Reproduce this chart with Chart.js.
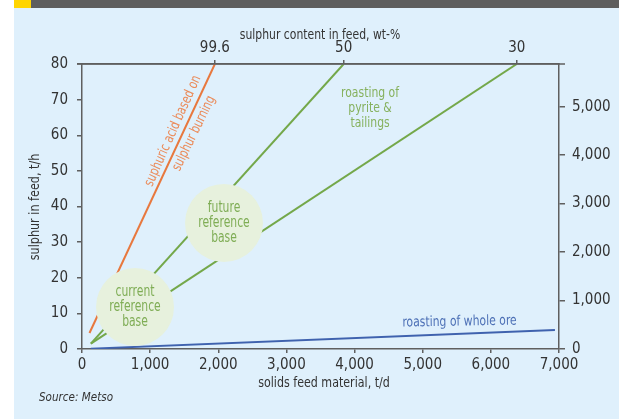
<!DOCTYPE html>
<html>
<head>
<meta charset="utf-8">
<script src="https://cdn.jsdelivr.net/npm/chart.js@4.4.1/dist/chart.umd.min.js"></script>
<style>
  html, body { margin: 0; padding: 0; background: #fff; }
  #wrap { width: 619px; height: 419px; position: relative; }
</style>
</head>
<body>
<div id="wrap"><canvas id="chart" width="619" height="419"></canvas></div>
<script>
// axis ticks
const feedTicks = [0, 1000, 2000, 3000, 4000, 5000, 6000, 7000];
const sulphurTicks = [0, 10, 20, 30, 40, 50, 60, 70, 80];
const acidTicks = [0, 1000, 2000, 3000, 4000, 5000];
const contentLabels = ["99.6", "50", "30"];
const contentFeed = [1950, 3840, 6380];

// series (solids feed t/d, sulphur t/h)
const acidBurning = [{ x: 110, y: 4.5 }, { x: 1950, y: 80 }];
const pyriteRich = [{ x: 130, y: 1.5 }, { x: 3840, y: 80 }];
const pyriteLean = [{ x: 130, y: 1.5 }, { x: 6380, y: 80 }];
const wholeOre = [{ x: 130, y: 0.1 }, { x: 6940, y: 5.3 }];
const baseNames = [["current", "reference", "base"], ["future", "reference", "base"]];
const basePoints = [{ x: 778, y: 11.8 }, { x: 2084, y: 35.4 }];

const FONT = "'Liberation Sans Narrow', 'DejaVu Sans Condensed', sans-serif";
const axisCol = "#5f5f5f";
const textCol = "#333";
const orange = "#e8783e";
const green = "#74a84a";
const blue = "#3f62ae";

const tickFont = { family: FONT, size: 15 };

// narrow text: condensed horizontally to look like the original typeface
function label(c, t, x, y, rot, sx) {
  c.save();
  c.translate(x, y);
  if (rot) c.rotate(rot * Math.PI / 180);
  c.scale(sx || 0.86, 1);
  c.fillText(t, 0, 0);
  c.restore();
}

const decor = {
  id: "decor",
  beforeDraw(chart) {
    const c = chart.ctx;
    c.save();
    c.fillStyle = "#fff";
    c.fillRect(0, 0, 619, 419);
    c.fillStyle = "#dff0fc";
    c.fillRect(14, 8, 605, 411);
    c.fillStyle = "#5e5e5e";
    c.fillRect(31, 0, 588, 8);
    c.fillStyle = "#ffd500";
    c.fillRect(14, 0, 17, 8);
    c.restore();
  },
  afterDatasetsDraw(chart) {
    const c = chart.ctx;
    const xs = chart.scales.x, ys = chart.scales.y;
    const px = v => xs.getPixelForValue(v), py = v => ys.getPixelForValue(v);
    const a = chart.chartArea;
    c.save();

    // top border runs a little past both side axes
    c.strokeStyle = axisCol;
    c.lineWidth = 1.5;
    c.beginPath();
    c.moveTo(a.left - 5, a.top);
    c.lineTo(a.right + 6, a.top);
    c.stroke();

    c.textAlign = "center";
    c.textBaseline = "middle";

    // circle labels
    c.fillStyle = "#7fad55";
    c.font = "15px " + FONT;
    basePoints.forEach((p, i) => {
      baseNames[i].forEach((t, k) => label(c, t, px(p.x), py(p.y) + (k - 1) * 15, 0, 0.8));
    });

    // pyrite label
    c.fillStyle = "#86b15e";
    c.font = "14px " + FONT;
    ["roasting of", "pyrite &", "tailings"].forEach((t, k) => label(c, t, px(4227), py(67.6) + (k - 1) * 15));

    // whole ore label
    c.fillStyle = "#4d70b6";
    label(c, "roasting of whole ore", px(5540), py(7.6), -1);

    // sulphur burning label
    c.fillStyle = "#eb8a58";
    c.font = "14px " + FONT;
    label(c, "suphuric acid based on", px(1336), py(61.2), -66, 0.82);
    label(c, "sulphur burning", px(1644), py(60.5), -64, 0.82);

    // axis titles
    c.fillStyle = textCol;
    c.font = "14px " + FONT;
    label(c, "sulphur content in feed, wt-%", 320, 35);
    label(c, "solids feed material, t/d", 324, 383, 0, 0.88);
    label(c, "sulphur in feed, t/h", 35, 207, -90, 0.89);
    c.textAlign = "left";
    c.font = "italic 13px " + FONT;
    label(c, "Source: Metso", 39, 398, 0, 0.89);
    c.restore();
  }
};

const gridOpts = len => ({ drawOnChartArea: false, tickLength: len, color: axisCol, lineWidth: 1.5 });
const border = { color: axisCol, width: 1.5 };

new Chart(document.getElementById("chart"), {
  type: "scatter",
  data: {
    datasets: [
      { data: basePoints, pointRadius: 39, pointHoverRadius: 39, backgroundColor: "#e7f1dd", borderWidth: 0, showLine: false, order: 0 },
      { data: acidBurning, showLine: true, borderColor: orange, borderWidth: 2, pointRadius: 0, order: 1 },
      { data: pyriteRich, showLine: true, borderColor: green, borderWidth: 2, pointRadius: 0, order: 1 },
      { data: pyriteLean, showLine: true, borderColor: green, borderWidth: 2, pointRadius: 0, order: 1 },
      { data: wholeOre, showLine: true, borderColor: blue, borderWidth: 2, pointRadius: 0, order: 1 }
    ]
  },
  options: {
    responsive: false,
    animation: false,
    events: [],
    layout: { padding: 0 },
    plugins: { legend: { display: false }, tooltip: { enabled: false } },
    scales: {
      x: {
        type: "linear", position: "bottom", min: 0, max: 7000,
        afterBuildTicks: s => { s.ticks = feedTicks.map(v => ({ value: v })); },
        afterFit: s => { s.height = 70; },
        grid: gridOpts(4), border,
        ticks: { font: tickFont, color: textCol, padding: 3, maxRotation: 0, autoSkip: false }
      },
      x2: {
        type: "linear", position: "top", min: 0, max: 7000,
        afterBuildTicks: s => { s.ticks = contentFeed.map(v => ({ value: v })); },
        afterFit: s => { s.height = 64; },
        grid: gridOpts(4), border,
        ticks: { font: tickFont, color: textCol, padding: 3, maxRotation: 0, autoSkip: false,
                 callback: (v, i) => contentLabels[i] }
      },
      y: {
        type: "linear", position: "left", min: 0, max: 80,
        afterBuildTicks: s => { s.ticks = sulphurTicks.map(v => ({ value: v })); },
        afterFit: s => { s.width = 82; },
        grid: gridOpts(5), border,
        ticks: { font: tickFont, color: textCol, padding: 9, autoSkip: false }
      },
      y2: {
        type: "linear", position: "right", min: 0, max: 5880,
        afterBuildTicks: s => { s.ticks = acidTicks.map(v => ({ value: v })); },
        afterFit: s => { s.width = 60; },
        grid: gridOpts(6), border,
        ticks: { font: tickFont, color: textCol, padding: 7, autoSkip: false }
      }
    }
  },
  plugins: [decor]
});
</script>
</body>
</html>
